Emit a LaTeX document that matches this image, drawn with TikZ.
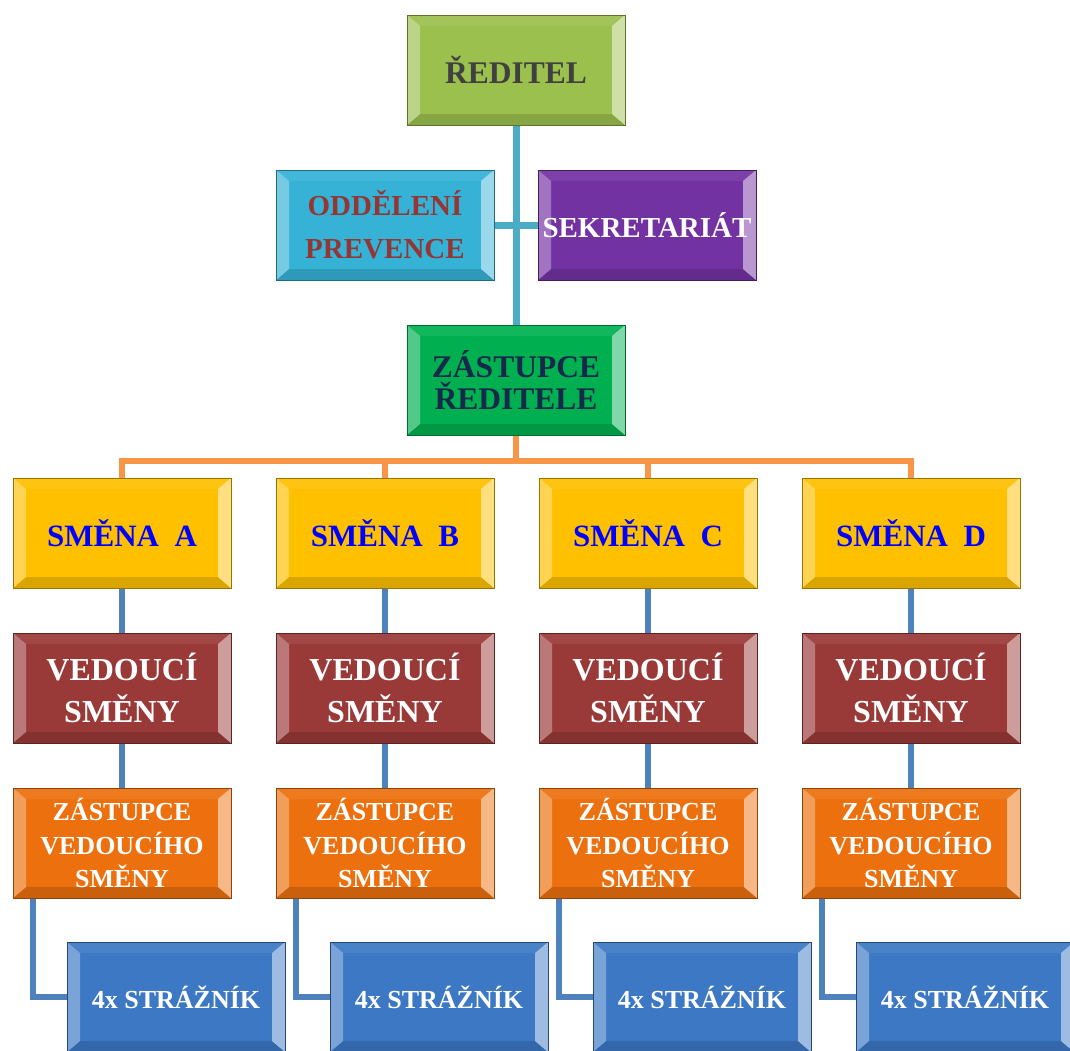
\documentclass[tikz,border=0pt]{standalone}
\usepackage{fontspec}
\setmainfont{Liberation Serif}
\usetikzlibrary{calc, backgrounds}

% box colours
\definecolor{cReditel}{HTML}{9CC04E}
\definecolor{cPrevence}{HTML}{35B2D6}
\definecolor{cSekret}{HTML}{7332A2}
\definecolor{cZastR}{HTML}{00B050}
\definecolor{cSmena}{HTML}{FFC000}
\definecolor{cVedouci}{HTML}{9A3A38}
\definecolor{cZastV}{HTML}{EC700E}
\definecolor{cStraz}{HTML}{3C78C4}
% line and text colours
\definecolor{cTeal}{HTML}{4BACC6}
\definecolor{cBus}{HTML}{F79646}
\definecolor{cLink}{HTML}{4F81BD}
\definecolor{tGrey}{HTML}{404040}
\definecolor{tRed}{HTML}{943634}
\definecolor{tNavy}{HTML}{17294A}

\newcommand{\boxfont}[2]{\bfseries\fontsize{#1}{#2}\selectfont}

\tikzset{
  bevel/.style={fill=#1, draw=#1!60!black, line width=0.5pt,
    minimum width=109pt, minimum height=55pt, inner sep=0pt, align=center,
    path picture={
      \coordinate (pnw) at (path picture bounding box.north west);
      \coordinate (pne) at (path picture bounding box.north east);
      \coordinate (psw) at (path picture bounding box.south west);
      \coordinate (pse) at (path picture bounding box.south east);
      \coordinate (inw) at ($(pnw)+(6.5pt,-5.5pt)$);
      \coordinate (ine) at ($(pne)+(-6.5pt,-5.5pt)$);
      \coordinate (isw) at ($(psw)+(6.5pt,5.5pt)$);
      \coordinate (ise) at ($(pse)+(-6.5pt,5.5pt)$);
      \fill[#1!93!white] (pnw) -- (pne) -- (ine) -- (inw) -- cycle;
      \fill[#1!86!black] (psw) -- (pse) -- (ise) -- (isw) -- cycle;
      \fill[#1!68!white] (pnw) -- (inw) -- (isw) -- (psw) -- cycle;
      \fill[#1!50!white] (pne) -- (ine) -- (ise) -- (pse) -- cycle;
    }},
  tealline/.style={draw=cTeal, line width=3.5pt},
  busline/.style={draw=cBus, line width=3pt},
  linkline/.style={draw=cLink, line width=3pt},
}

\begin{document}
\begin{tikzpicture}[x=0.5pt, y=-0.5pt]
  \useasboundingbox (0,0) rectangle (1070,1050);

  % top of the chart
  \node[bevel=cReditel, text=tGrey, font=\boxfont{15.75}{19}] (reditel) at (516,70) {ŘEDITEL};
  \node[bevel=cPrevence, text=tRed, font=\boxfont{14.5}{21.5}] (prevence) at (385,225) {ODDĚLENÍ\\PREVENCE};
  \node[bevel=cSekret, text=white, font=\boxfont{14.5}{18}] (sekret) at (647,225) {SEKRETARIÁT};
  \node[bevel=cZastR, text=tNavy, font=\boxfont{15.75}{16}] (zastR) at (516,380) {ZÁSTUPCE\\ŘEDITELE};

  % the four shifts
  \foreach \c/\x in {A/122, B/385, C/648, D/911} {
    \node[bevel=cSmena, text=blue, font=\boxfont{15.5}{19}] (smena\c) at (\x,533) {SMĚNA~~\c};
    \node[bevel=cVedouci, text=white, font=\boxfont{16}{21}] (ved\c) at (\x,688) {VEDOUCÍ\\SMĚNY};
    \node[bevel=cZastV, text=white, font=\boxfont{13}{16.7}] (zastV\c) at (\x,843) {ZÁSTUPCE\\VEDOUCÍHO\\SMĚNY};
    \node[bevel=cStraz, text=white, font=\boxfont{13}{16}] (straz\c) at (\x+54,997) {4x STRÁŽNÍK};
  }

  % connectors
  \begin{scope}[on background layer]
    \draw[tealline] (reditel.south) -- (zastR.north);
    \draw[tealline] (prevence.east) -- (sekret.west);
    \foreach \c in {A, B, C, D} {
      \draw[busline] (zastR.south) -- ++(0,25) -| (smena\c.north);
      \draw[linkline] (smena\c.south) -- (ved\c.north);
      \draw[linkline] (ved\c.south) -- (zastV\c.north);
      \draw[linkline] ($(zastV\c.south west)+(20,0)$) |- (straz\c.west);
    }
  \end{scope}
\end{tikzpicture}
\end{document}
